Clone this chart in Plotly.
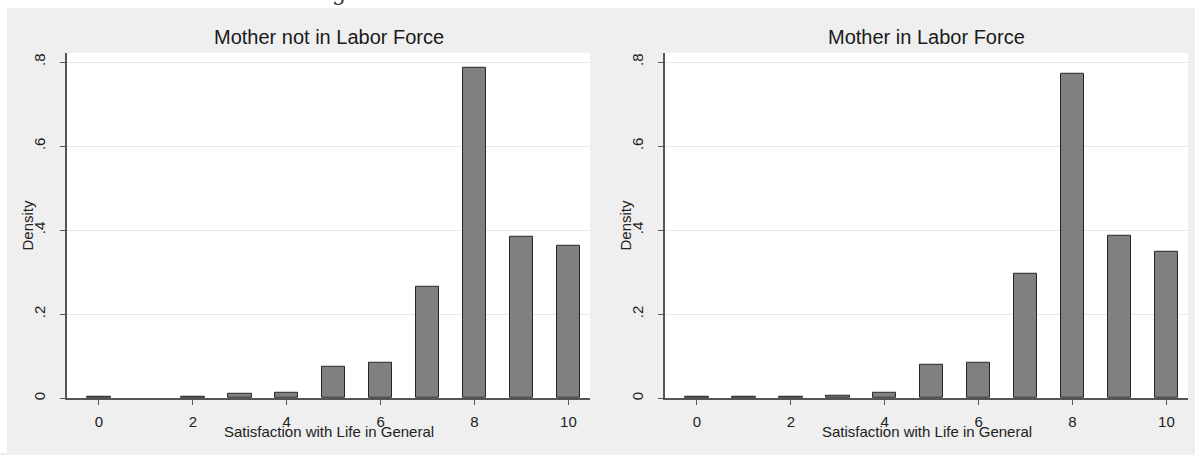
import plotly.graph_objects as go

# ---- data ----
scores = list(range(11))
density_not_in_lf = [0.004, 0.0, 0.003, 0.0095, 0.0135, 0.075, 0.085, 0.265, 0.7875, 0.384, 0.363]
density_in_lf = [0.004, 0.004, 0.003, 0.0065, 0.012, 0.079, 0.085, 0.296, 0.773, 0.387, 0.348]
panel_titles = ["Mother not in Labor Force", "Mother in Labor Force"]
x_tickvals = [0, 2, 4, 6, 8, 10]
y_tickvals = [0, 0.2, 0.4, 0.6, 0.8]
y_ticktext = ["0", ".2", ".4", ".6", ".8"]
x_title = "Satisfaction with Life in General"
y_title = "Density"

W, H = 1195, 455
FONT = "Arial, Liberation Sans, Helvetica, sans-serif"


def px(x):
    return x / W


def py(y):
    return 1 - y / H


fig = go.Figure()

panels = [
    (density_not_in_lf, "x", "y", (67, 590)),
    (density_in_lf, "x2", "y2", (665, 1188)),
]

for vals, xa, ya, _ in panels:
    fig.add_trace(go.Bar(
        x=scores, y=vals, width=0.5, xaxis=xa, yaxis=ya,
        marker=dict(color="#808080",
                    line=dict(color="#262626", width=[1 if v > 0 else 0 for v in vals])),
        showlegend=False, hoverinfo="skip",
    ))

ydom = [py(400), py(53)]
axis_common = dict(
    showline=True, linecolor="#555555", linewidth=1.6, mirror=False,
    ticks="outside", ticklen=5, tickwidth=1, tickcolor="#555555",
    tickfont=dict(family=FONT, size=15, color="#222222"),
    zeroline=False,
)

fig.update_layout(
    width=W, height=H,
    margin=dict(l=0, r=0, t=0, b=0),
    paper_bgcolor="#efefef", plot_bgcolor="white",
    bargap=0, showlegend=False,
    font=dict(family=FONT, color="#222222"),
)

for i, (vals, xa, ya, (x0, x1)) in enumerate(panels):
    xkey = "xaxis" if i == 0 else "xaxis2"
    ykey = "yaxis" if i == 0 else "yaxis2"
    fig.update_layout(**{
        xkey: dict(domain=[px(x0), px(x1)], range=[-0.68, 10.46],
                   tickvals=x_tickvals, showgrid=False, anchor=ya,
                   ticklabelstandoff=4, **axis_common),
        ykey: dict(domain=ydom, range=[0, 0.822], tickvals=y_tickvals,
                   ticktext=y_ticktext, tickangle=-90, anchor=xa,
                   showgrid=True, gridcolor="#e8e8e8", gridwidth=1,
                   ticklabelstandoff=9, **axis_common),
    })
    cx = (x0 + x1) / 2
    fig.add_annotation(x=px(cx), y=py(37), xref="paper", yref="paper",
                       text=panel_titles[i], showarrow=False,
                       xanchor="center", yanchor="middle",
                       font=dict(family=FONT, size=20, color="#1a1a1a"))
    fig.add_annotation(x=px(cx), y=py(433), xref="paper", yref="paper",
                       text=x_title, showarrow=False,
                       xanchor="center", yanchor="middle",
                       font=dict(family=FONT, size=15, color="#222222"))
    fig.add_annotation(x=px(x0 - 39), y=py(226.5), xref="paper", yref="paper",
                       text=y_title, showarrow=False, textangle=-90,
                       xanchor="center", yanchor="middle",
                       font=dict(family=FONT, size=15, color="#222222"))

# white margins around the grey graph region
fig.add_shape(type="rect", xref="paper", yref="paper", x0=0, x1=1, y0=py(8), y1=1,
              fillcolor="white", line=dict(width=0), layer="above")
fig.add_shape(type="rect", xref="paper", yref="paper", x0=0, x1=px(7), y0=0, y1=1,
              fillcolor="white", line=dict(width=0), layer="above")

# cropped heading fragment at the very top
fig.add_annotation(x=px(339), y=1, xref="paper", yref="paper", text="g",
                   showarrow=False, xanchor="center", yanchor="bottom", yshift=-7,
                   font=dict(family="DejaVu Serif, Liberation Serif, serif", size=22, color="#333333"))

fig.write_html("out.html", config={"displayModeBar": False},
               post_script="document.body.style.margin='0px';document.body.style.overflow='hidden';")
